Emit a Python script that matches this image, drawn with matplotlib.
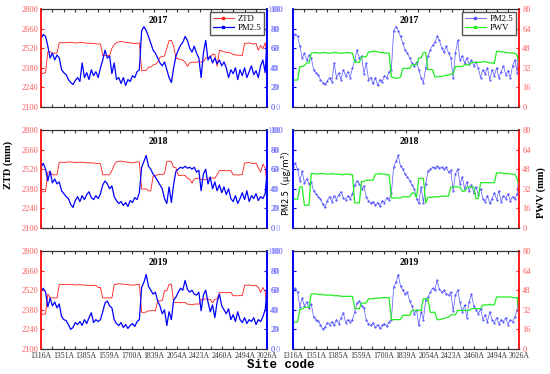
import matplotlib
matplotlib.use('Agg')
import matplotlib.pyplot as plt
from matplotlib.lines import Line2D
import numpy as np

# Site codes shown on the x axis
site_labels = ['1316A', '1351A', '1385A', '1559A', '1700A', '1839A',
               '2054A', '2423A', '2460A', '2494A', '3026A']
years = ['2017', '2018', '2019']

# ZTD (mm), one value per site
ztd_2017 = [2345, 2340, 2345, 2495, 2495, 2485, 2485, 2485, 2560, 2560,
            2558, 2560, 2562, 2562, 2560, 2558, 2558, 2560, 2560, 2558,
            2556, 2556, 2555, 2555, 2552, 2550, 2550, 2467, 2467, 2467,
            2467, 2520, 2545, 2560, 2565, 2568, 2565, 2562, 2560, 2558,
            2555, 2552, 2555, 2558, 2360, 2360, 2362, 2385, 2385, 2400,
            2405, 2420, 2455, 2460, 2465, 2520, 2575, 2575, 2535, 2450,
            2445, 2440, 2435, 2420, 2390, 2415, 2420, 2420, 2420, 2425,
            2420, 2425, 2450, 2455, 2455, 2478, 2475, 2390, 2505, 2500,
            2495, 2490, 2490, 2485, 2475, 2472, 2470, 2470, 2468, 2555,
            2555, 2558, 2552, 2550, 2555, 2505, 2540, 2515, 2560, 2440]
ztd_2018 = [2360, 2358, 2362, 2500, 2500, 2480, 2480, 2480, 2570, 2570,
            2568, 2570, 2572, 2572, 2570, 2568, 2568, 2570, 2570, 2568,
            2566, 2566, 2565, 2565, 2562, 2560, 2560, 2480, 2480, 2480,
            2480, 2510, 2550, 2572, 2575, 2578, 2575, 2572, 2570, 2568,
            2565, 2568, 2572, 2570, 2378, 2378, 2380, 2365, 2365, 2470,
            2475, 2480, 2485, 2480, 2490, 2575, 2578, 2572, 2535, 2530,
            2475, 2475, 2478, 2475, 2455, 2450, 2420, 2450, 2455, 2455,
            2445, 2445, 2445, 2455, 2455, 2458, 2455, 2480, 2510, 2510,
            2512, 2508, 2510, 2510, 2480, 2480, 2478, 2480, 2482, 2565,
            2565, 2568, 2562, 2560, 2565, 2530, 2500, 2555, 2530, 2380]
ztd_2019 = [2350, 2348, 2352, 2493, 2465, 2465, 2465, 2465, 2561, 2561,
            2560, 2562, 2562, 2560, 2560, 2558, 2558, 2560, 2558, 2556,
            2556, 2555, 2555, 2554, 2555, 2540, 2540, 2465, 2465, 2465,
            2465, 2465, 2560, 2563, 2566, 2565, 2563, 2562, 2560, 2558,
            2556, 2558, 2560, 2562, 2362, 2362, 2364, 2373, 2373, 2375,
            2373, 2444, 2444, 2446, 2516, 2516, 2563, 2563, 2432, 2432,
            2434, 2430, 2432, 2432, 2420, 2420, 2418, 2420, 2422, 2420,
            2455, 2455, 2458, 2455, 2455, 2430, 2455, 2458, 2504, 2504,
            2506, 2502, 2504, 2504, 2481, 2481, 2480, 2482, 2481, 2556,
            2556, 2558, 2554, 2552, 2556, 2540, 2505, 2540, 2510, 2380]

# PM2.5 (ug/m3), one value per site
pm_2017 = [70, 74, 72, 62, 50, 55, 48, 53, 50, 38,
           35, 33, 28, 25, 23, 27, 30, 26, 45, 30,
           35, 28, 38, 32, 36, 30, 40, 48, 58, 50,
           52, 34, 45, 28, 30, 24, 30, 22, 28, 26,
           32, 30, 36, 38, 78, 82, 78, 72, 65, 58,
           55, 50, 45, 42, 46, 38, 30, 25, 40, 52,
           58, 63, 66, 72, 68, 60, 56, 62, 55, 50,
           30, 55, 68, 48, 52, 45, 50, 44, 48, 42,
           46, 40, 30, 38, 34, 40, 28, 38, 32, 40,
           30, 36, 42, 33, 37, 30, 42, 48, 35, 78]
pm_2018 = [62, 66, 60, 48, 58, 46, 50, 45, 47, 38,
           35, 32, 30, 24, 21, 28, 32, 27, 33, 29,
           34, 37, 31, 29, 33, 30, 35, 44, 48, 45,
           40, 43, 32, 28, 25, 27, 23, 26, 22, 28,
           26, 31, 29, 36, 62, 68, 74, 63, 60, 55,
           52, 48, 44, 40, 30, 25, 42, 26, 45, 58,
           60, 62, 61, 63, 61, 62, 60, 62, 57, 59,
           38, 55, 60, 45, 52, 40, 47, 38, 44, 36,
           42, 34, 40, 30, 27, 33, 25, 30, 36, 29,
           38, 27, 33, 30, 35, 28, 32, 30, 35, 62]
pm_2019 = [59, 62, 58, 43, 52, 44, 48, 42, 46, 33,
           30, 29, 25, 20, 22, 27, 25, 28, 24, 30,
           26, 32, 37, 27, 30, 28, 30, 38, 47, 49,
           44, 42, 30, 26, 24, 27, 22, 25, 21, 24,
           26, 23, 28, 30, 63, 68, 76, 64, 60, 56,
           58, 49, 44, 36, 40, 24, 38, 30, 50, 53,
           58, 62, 60, 70, 61, 58, 60, 56, 55, 58,
           39, 55, 60, 48, 38, 45, 32, 48, 56, 44,
           40, 36, 41, 30, 35, 28, 38, 30, 27, 32,
           26, 30, 28, 32, 25, 30, 28, 33, 40, 65]

# PWV (mm), one value per site
pwv_2017 = [22, 22, 22, 33, 33, 34, 36, 36, 44, 44.5,
            44.5, 44, 44, 44.5, 44.5, 44, 44, 44, 44.5, 44.5,
            44, 44, 44, 44.5, 44.5, 44, 44, 36.5, 36.5, 36.5,
            41, 41, 41, 45, 45, 45.5, 45.5, 45, 44.5, 44.5,
            44, 44, 44, 24.5, 24, 23.5, 23.5, 24.5, 31.5, 31.5,
            31.5, 31.5, 34.5, 34.5, 34.5, 40, 40, 44.5, 44.5, 30.5,
            30.5, 30.5, 24.5, 24.5, 25, 25, 25.5, 26, 26, 27,
            27, 33, 33, 33, 33, 34.5, 34.5, 34.5, 36.5, 36.5,
            36.5, 36.5, 36.5, 37, 37, 36.5, 36, 36, 35.5, 45.5,
            45.5, 45, 45, 44.5, 44.5, 44, 44, 44, 42, 33]
pwv_2018 = [23.5, 23.5, 23.5, 33.5, 33.5, 18.5, 18.5, 18.5, 44.5, 44.5,
            44, 44, 44.5, 44.5, 44, 44, 44, 44.5, 44, 44,
            44, 43.5, 43.5, 44, 44, 43.5, 43.5, 20.5, 20.5, 20.5,
            38, 38, 39, 39, 39, 39, 44, 44, 44.5, 44,
            44, 43.5, 43.5, 24.5, 24.5, 24.5, 24.5, 24.5, 25.5, 25.5,
            25.5, 25.5, 28.5, 28.5, 25, 40.5, 40.5, 40.5, 20.5, 25,
            25, 25, 25.5, 25.5, 25.5, 26, 26, 26, 26, 33.5,
            33.5, 33.5, 33.5, 33.5, 30, 30, 33.5, 33.5, 33.5, 33.5,
            24, 24, 37, 37, 37, 37, 37, 37, 37, 45,
            45, 45, 44.5, 44.5, 44.5, 44, 44, 44, 40, 33]
pwv_2019 = [22, 22, 22, 32.5, 32.5, 34, 34, 34, 45, 45,
            45, 44.5, 44.5, 44.5, 44, 44, 44, 44, 43.5, 43.5,
            43.5, 43, 43, 43, 43, 43, 43, 33, 33, 33,
            37.5, 37.5, 37.5, 41, 41, 41, 41.5, 41.5, 41.5, 42,
            42, 42, 42, 24, 24, 24, 24, 24, 27.5, 27.5,
            27.5, 27.5, 31.5, 31.5, 31.5, 31.5, 31.5, 41, 41, 41,
            30, 30, 30, 24, 24, 24.5, 25, 25.5, 26, 28,
            28, 28, 31.5, 31.5, 31.5, 31.5, 31.5, 31.5, 33, 33,
            33, 33, 33, 36, 36, 36, 36.5, 36, 36, 42.5,
            42.5, 42.5, 42.5, 42.5, 42.5, 42.5, 42, 42, 42, 26]

ztd_all = [ztd_2017, ztd_2018, ztd_2019]
pm_all = [pm_2017, pm_2018, pm_2019]
pwv_all = [pwv_2017, pwv_2018, pwv_2019]

RED = '#ff1a1a'
RED_TXT = '#ff5a5a'
BLUE = '#0000ff'
BLUE_TXT = '#4a4aff'
BLUE_LIGHT = '#5555ff'
BLUE_LIGHT_TXT = '#8c8cff'
GREEN = '#22ee22'
SPINE = '#333333'
TICK_FONT = 'Liberation Serif'
TICK_SIZE = 6

x = np.arange(len(ztd_2017))
tick_pos = np.linspace(x[0], x[-1], len(site_labels))
minor_pos = (tick_pos[:-1] + tick_pos[1:]) / 2


def style_x(ax, show_labels):
    ax.set_xlim(x[0], x[-1])
    ax.set_xticks(tick_pos)
    ax.set_xticks(minor_pos, minor=True)
    ax.tick_params(axis='x', which='both', direction='in', top=True,
                   bottom=True, length=2.5, width=0.8, color='#333333')
    if show_labels:
        ax.set_xticklabels(site_labels, fontsize=5.6, family=TICK_FONT,
                           color='#333333')
        ax.tick_params(axis='x', pad=2)
    else:
        ax.set_xticklabels([])


def style_y(ax, lim, step, color, txt_color, pad=2):
    ax.set_ylim(*lim)
    ax.set_yticks(np.arange(lim[0], lim[1] + step / 2, step))
    ax.tick_params(axis='y', direction='in', length=2.5, width=0.8,
                   color=color, labelcolor=txt_color, labelsize=TICK_SIZE,
                   pad=pad)
    for lab in ax.get_yticklabels():
        lab.set_family(TICK_FONT)


def color_spines(axes, left, right):
    for a in axes:
        a.spines['left'].set_color(left)
        a.spines['right'].set_color(right)
        a.spines['left'].set_linewidth(1.2)
        a.spines['right'].set_linewidth(1.2)
        a.spines['top'].set_color(SPINE)
        a.spines['bottom'].set_color(SPINE)


def add_legend(ax, handles, labels):
    ax.legend(handles, labels, loc='upper right',
              prop={'family': TICK_FONT, 'size': 6.3}, fancybox=False,
              edgecolor='#555555', framealpha=1, handlelength=2.4,
              labelspacing=0.15, borderpad=0.3, borderaxespad=0.35,
              handletextpad=0.5)


# Figure layout: 3 rows, 2 columns of dual-axis panels
fig = plt.figure(figsize=(5.5, 3.74), dpi=100)
col_left = [0.0745, 0.5327]
col_width = 0.4118
row_bottom = [0.7139, 0.3904, 0.0668]
row_height = 0.262

for i, year in enumerate(years):
    last_row = (i == len(years) - 1)

    # Left column: ZTD (left axis) with PM2.5 (right axis)
    ax = fig.add_axes([col_left[0], row_bottom[i], col_width, row_height])
    ax.plot(x, ztd_all[i], color=RED, lw=0.6)
    style_x(ax, last_row)
    style_y(ax, (2100, 2800), 140, RED, RED_TXT)
    ax2 = ax.twinx()
    ax2.plot(x, pm_all[i], color=BLUE, lw=0.9)
    style_y(ax2, (0, 100), 20, BLUE, BLUE_TXT)
    color_spines((ax, ax2), RED, BLUE)
    ax.text(0.52, 0.88, year, transform=ax.transAxes, ha='center',
            va='center', fontsize=7, weight='bold', family=TICK_FONT)
    if i == 0:
        add_legend(ax2,
                   [Line2D([], [], color=RED, lw=0.6, marker='s', ms=2),
                    Line2D([], [], color=BLUE, lw=0.9, marker='s', ms=2)],
                   ['ZTD', 'PM2.5'])

    # Right column: PM2.5 (left axis) with PWV (right axis)
    bx = fig.add_axes([col_left[1], row_bottom[i], col_width, row_height])
    bx.plot(x, pm_all[i], color=BLUE_LIGHT, lw=0.5, marker='.', ms=1.2)
    style_x(bx, last_row)
    style_y(bx, (0, 100), 20, BLUE, BLUE_LIGHT_TXT, pad=9.5)
    bx2 = bx.twinx()
    bx2.plot(x, pwv_all[i], color=GREEN, lw=0.9)
    style_y(bx2, (0, 80), 16, RED, RED_TXT)
    color_spines((bx, bx2), BLUE, RED)
    bx.text(0.515, 0.88, year, transform=bx.transAxes, ha='center',
            va='center', fontsize=7, weight='bold', family=TICK_FONT)
    if i == 0:
        add_legend(bx2,
                   [Line2D([], [], color=BLUE_LIGHT, lw=0.6, marker='s', ms=2),
                    Line2D([], [], color=GREEN, lw=0.9, marker='s', ms=2)],
                   ['PM2.5', 'PWV'])

# Shared axis titles
fig.text(0.015, 0.56, 'ZTD (mm)', rotation=90, ha='center', va='center',
         fontsize=7.5, weight='bold', family=TICK_FONT)
fig.text(0.519, 0.52, 'PM2.5\uff08\u03bcg/m\u00b3\uff09', rotation=90,
         ha='center', va='center', fontsize=6.5,
         family=['Noto Sans CJK SC', 'DejaVu Sans'])
fig.text(0.984, 0.485, 'PWV (mm)', rotation=90, ha='center', va='center',
         fontsize=7.5, weight='bold', family=TICK_FONT)
fig.text(0.51, 0.024, 'Site code', ha='center', va='center', fontsize=9,
         weight='bold', family='Liberation Mono')

fig.savefig('out.png', dpi=100)
